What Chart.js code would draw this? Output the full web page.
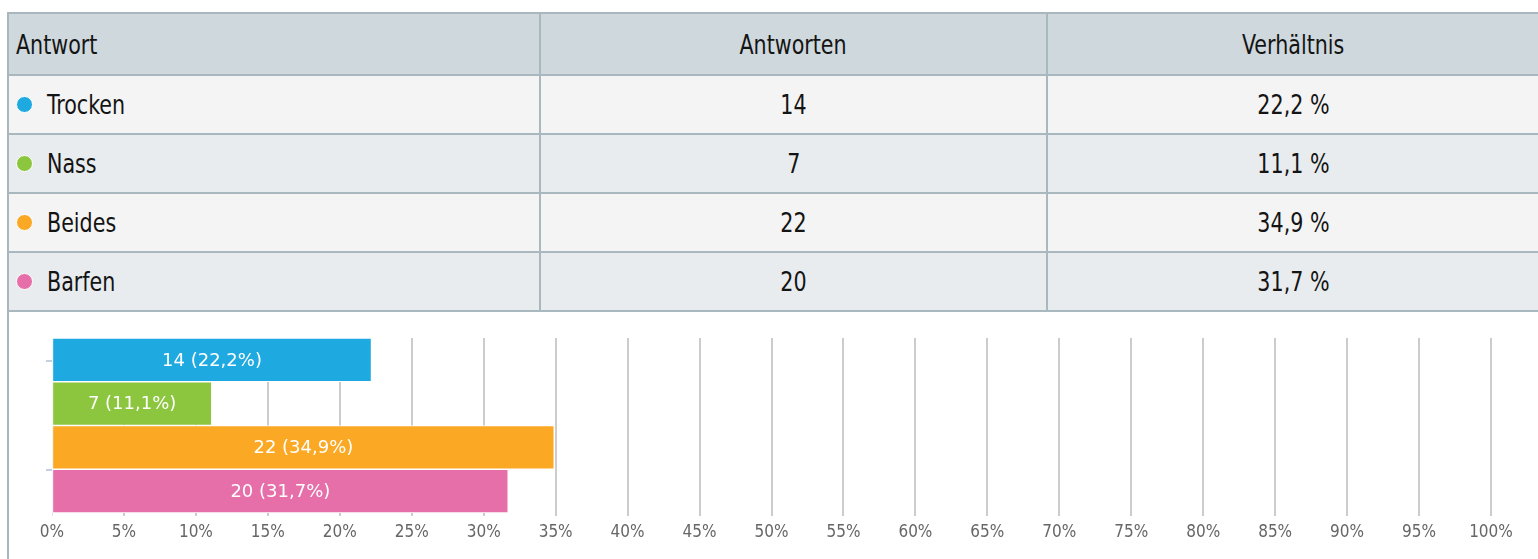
<!DOCTYPE html>
<html><head><meta charset="utf-8">
<script src="https://cdn.jsdelivr.net/npm/chart.js@4/dist/chart.umd.min.js"></script>
<style>
html,body{margin:0;padding:0;background:#fff;width:1538px;height:559px;overflow:hidden;}
#wrap{position:absolute;left:7px;top:12px;width:1540px;height:560px;border-left:2px solid #a9b8bf;border-top:2px solid #a9b8bf;}
#tbl{display:grid;grid-template-columns:532px 507px 492px;grid-template-rows:62px 59px 59px 59px 59px;font-family:'DejaVu Sans Condensed','DejaVu Sans',sans-serif;font-size:27px;color:#141414;}
.c{box-sizing:border-box;border-right:2px solid #a9b8bf;border-bottom:2px solid #a9b8bf;display:flex;align-items:center;}
.h{background:#cfd8dc;}
.r0{background:#f4f4f4;}
.r1{background:#e8ecee;}
.l{padding-left:7px;}
.m{justify-content:center;}
.t{display:inline-block;transform:scaleX(0.85);}
.l .t{transform-origin:left center;}
.m .t{transform-origin:center center;}
.dot{display:inline-block;width:15px;height:15px;border-radius:50%;border:1px solid #fff;margin-left:0px;margin-right:14px;}
#chartBox{position:absolute;left:0;top:298px;width:1529px;height:247px;}
</style></head>
<body>
<div id="wrap">
  <div id="tbl"></div>
  <div id="chartBox"><canvas id="c"></canvas></div>
</div>
<script>
const headers = ['Antwort', 'Antworten', 'Verhältnis'];
const categories = ['Trocken', 'Nass', 'Beides', 'Barfen'];
const counts = [14, 7, 22, 20];
const percents = [22.2, 11.1, 34.9, 31.7];
const colors = ['#1fa9e1', '#8cc63f', '#fba924', '#e66fa9'];
const xMax = 100;
const xStep = 5;
const yAxisMarks = [23, 132];

const fmt = v => v.toFixed(1).replace('.', ',');

function txt(s) {
  const t = document.createElement('span');
  t.className = 't';
  t.textContent = s;
  return t;
}

// table
const tbl = document.getElementById('tbl');
headers.forEach((h, i) => {
  const d = document.createElement('div');
  d.className = 'c h ' + (i === 0 ? 'l' : 'm');
  d.appendChild(txt(h));
  tbl.appendChild(d);
});
categories.forEach((cat, r) => {
  const rc = 'r' + (r % 2);
  const a = document.createElement('div');
  a.className = 'c l ' + rc;
  const dot = document.createElement('span');
  dot.className = 'dot';
  dot.style.background = colors[r];
  a.appendChild(dot);
  a.appendChild(txt(cat));
  tbl.appendChild(a);
  const b = document.createElement('div');
  b.className = 'c m ' + rc;
  b.appendChild(txt(String(counts[r])));
  tbl.appendChild(b);
  const c = document.createElement('div');
  c.className = 'c m ' + rc;
  c.appendChild(txt(fmt(percents[r]) + ' %'));
  tbl.appendChild(c);
});

// bar labels plugin
const barLabels = {
  id: 'barLabels',
  afterDatasetsDraw(chart) {
    const ctx = chart.ctx;
    ctx.save();
    ctx.font = '18px "DejaVu Sans"';
    ctx.fillStyle = '#ffffff';
    ctx.textAlign = 'center';
    ctx.textBaseline = 'middle';
    chart.data.datasets.forEach((ds, i) => {
      const el = chart.getDatasetMeta(i).data[0];
      const t = counts[i] + ' (' + fmt(percents[i]) + '%)';
      ctx.fillText(t, (el.x + el.base) / 2, el.y + 1);
    });
    ctx.restore();
  }
};

new Chart(document.getElementById('c'), {
  type: 'bar',
  data: {
    labels: [''],
    datasets: categories.map((cat, i) => ({
      label: cat,
      data: [percents[i]],
      backgroundColor: colors[i],
      borderColor: '#ffffff',
      borderWidth: 1,
      borderSkipped: false,
      categoryPercentage: 1,
      barPercentage: 1
    }))
  },
  options: {
    indexAxis: 'y',
    responsive: true,
    maintainAspectRatio: false,
    animation: false,
    devicePixelRatio: 1,
    layout: { padding: { left: 37, right: 47, top: 26, bottom: 16 } },
    plugins: { legend: { display: false }, tooltip: { enabled: false } },
    scales: {
      x: {
        min: 0, max: xMax,
        ticks: {
          stepSize: xStep,
          autoSkip: false,
          maxRotation: 0,
          padding: 6,
          color: '#666666',
          font: { family: '"DejaVu Sans Condensed", "DejaVu Sans"', size: 17 },
          callback: v => v + '%'
        },
        grid: {
          color: c => c.index === 0 ? '#d9e0e8' : '#cccccc',
          lineWidth: c => c.index === 0 ? 1 : 2,
          tickLength: 3
        },
        border: { display: false },
        afterFit: s => { s.height = 30; }
      },
      y: { display: false },
      yt: {
        type: 'linear', position: 'left', min: 0, max: 175, reverse: true,
        offset: false,
        afterBuildTicks: s => { s.ticks = yAxisMarks.map(v => ({ value: v })); },
        afterFit: s => { s.width = 6; },
        ticks: { display: false },
        grid: { offset: false, drawOnChartArea: false, tickLength: 6, color: '#c5d0de', lineWidth: 2 },
        border: { display: false }
      }
    }
  },
  plugins: [barLabels]
});
</script>
</body></html>
